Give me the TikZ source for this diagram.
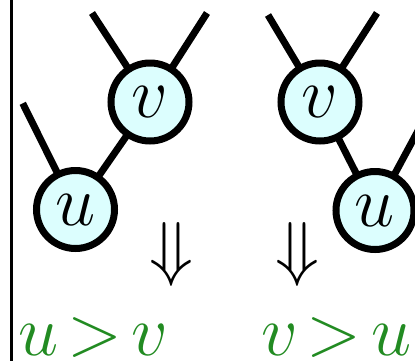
\RequirePackage{fix-cm}
\documentclass[tikz,border=0pt]{standalone}
\usetikzlibrary{backgrounds}
\definecolor{fgreen}{RGB}{34,139,34}
\definecolor{nodefill}{RGB}{220,254,254}
\newcommand{\bigfont}{\fontsize{72}{86}\selectfont}
\tikzset{
  tnode/.style={circle, draw=black, line width=7pt, fill=nodefill,
    minimum size=78pt, inner sep=0pt, font=\bigfont},
  edgeln/.style={line width=7pt, line cap=butt},
  lbl/.style={text=fgreen, font=\bigfont, inner sep=0pt, anchor=base west},
  arr/.style={font=\bigfont, inner sep=0pt, anchor=base}
}
\begin{document}
\begin{tikzpicture}[x=1pt,y=-1pt]
  \useasboundingbox (0,0) rectangle (415,360);
  \clip (0,0) rectangle (415,360);
  % frame line on the left
  \coordinate (ft) at (11,-5);
  \coordinate (fb) at (11,365);
  \draw[line width=3pt] (ft) -- (fb);
  % left tree
  \node[tnode] (vL) at (150,102) {$v$};
  \node[tnode] (uL) at (75.5,209.5) {$u$};
  \coordinate (vLa) at (92,13);
  \coordinate (vLb) at (207,13);
  \coordinate (uLa) at (22.7,103.3);
  % right tree
  \node[tnode] (vR) at (320,102) {$v$};
  \node[tnode] (uR) at (375,210.5) {$u$};
  \coordinate (vRa) at (268,15);
  \coordinate (vRb) at (377,13);
  \coordinate (uRb) at (440,90);
  \begin{scope}[on background layer]
    \draw[edgeln] (vL.center) -- (vLa);
    \draw[edgeln] (vL.center) -- (vLb);
    \draw[edgeln] (vL.center) -- (uL.center);
    \draw[edgeln] (uL.center) -- (uLa);
    \draw[edgeln] (vR.center) -- (vRa);
    \draw[edgeln] (vR.center) -- (vRb);
    \draw[edgeln] (vR.center) -- (uR.center);
    \draw[edgeln] (uR.center) -- (uRb);
  \end{scope}
  % implication arrows
  \node[arr] (arL) at (171,272) {$\Downarrow$};
  \node[arr] (arR) at (297.5,272) {$\Downarrow$};
  % results
  \node[lbl] (tL) at (18.5,355) {$u\mskip2.3mu{>}\mskip2.3mu v$};
  \node[lbl] (tR) at (261,355) {$v\mskip2.3mu{>}\mskip2.3mu u$};
\end{tikzpicture}
\end{document}
